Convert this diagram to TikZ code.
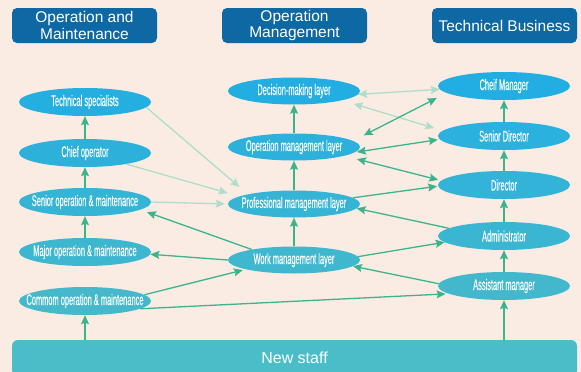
\documentclass[tikz,border=0pt]{standalone}
\usepackage{fontspec}
\setmainfont{Liberation Sans}
\newfontfamily\narrowfont{Liberation Sans}[FakeStretch=0.48,FakeBold=0.15]
\usetikzlibrary{arrows.meta,shapes.geometric}
\definecolor{bg}{HTML}{FAECE3}
\definecolor{hdr}{HTML}{0E68A3}
\definecolor{etop}{HTML}{22AEE2}
\definecolor{ebot}{HTML}{45B9CB}
\definecolor{staffc}{HTML}{4ABEC8}
\definecolor{darkg}{HTML}{3BB48E}
\definecolor{lightg}{HTML}{AFDDCB}
\newcommand{\lbl}[1]{\makebox[0pt][c]{#1}}
\begin{document}
\begin{tikzpicture}[x=1pt,y=-1pt,
  >={Stealth[length=9pt,width=8pt,inset=1.5pt]},
  hdrbox/.style={rectangle, rounded corners=5pt, fill=hdr, text=white,
    minimum width=145pt, minimum height=35pt, inner sep=0pt, align=center,
    font=\fontsize{15.5}{16.5}\selectfont},
  ell/.style={ellipse, minimum width=132pt, minimum height=28pt, inner sep=0pt,
    text=white, font=\narrowfont\fontsize{15.5}{15.5}\selectfont},
  staffbox/.style={rectangle, rounded corners=6pt, fill=staffc, text=white,
    minimum width=565pt, minimum height=36pt, inner sep=0pt,
    font=\fontsize{16}{18}\selectfont},
  arr/.style={draw=darkg, line width=1.3pt, ->},
  darr/.style={draw=darkg, line width=1.3pt, <->},
  larr/.style={draw=lightg, line width=1.3pt, ->},
  ldarr/.style={draw=lightg, line width=1.3pt, <->}
]
\fill[bg] (0,0) rectangle (581,372);
\useasboundingbox (0,0) rectangle (581,372);

% headers
\node[hdrbox] (h1) at (84.5,25.5) {Operation and\\Maintenance};
\node[hdrbox] (h2) at (294.5,25.5) {Operation\\Management};
\node[hdrbox] (h3) at (504.5,25.5) {Technical Business};

% left column
\node[ell, fill=ebot!7!etop]   (tech)   at (85,102) {\lbl{Technical specialists}};
\node[ell, fill=ebot!31!etop]  (chief)  at (85,153) {\lbl{Chief operator}};
\node[ell, fill=ebot!55!etop]  (senior) at (85,202) {\lbl{Senior operation \& maintenance}};
\node[ell, fill=ebot!77!etop]  (major)  at (85,252) {\lbl{Major operation \& maintenance}};
\node[ell, fill=ebot!100!etop] (common) at (85,301) {\lbl{Commom operation \& maintenance}};

% middle column
\node[ell, minimum height=27pt, fill=ebot!2!etop]  (dec)  at (294,91)  {\lbl{Decision-making layer}};
\node[ell, minimum height=27pt, fill=ebot!28!etop] (opm)  at (294,147) {\lbl{Operation management layer}};
\node[ell, minimum height=27pt, fill=ebot!55!etop] (prof) at (294,204) {\lbl{Professional management layer}};
\node[ell, minimum height=27pt, fill=ebot!81!etop] (work) at (294,260) {\lbl{Work management layer}};

% right column
\node[ell, fill=ebot!0!etop]  (cm)   at (504,86)  {\lbl{Cheif Manager}};
\node[ell, fill=ebot!23!etop] (sd)   at (504,136) {\lbl{Senior Director}};
\node[ell, fill=ebot!46!etop] (dir)  at (504,185) {\lbl{Director}};
\node[ell, fill=ebot!70!etop] (adm)  at (504,236) {\lbl{Administrator}};
\node[ell, fill=ebot!93!etop] (asst) at (504,286) {\lbl{Assistant manager}};

% bottom
\node[staffbox] (staff) at (294.5,358) {New staff};

% vertical arrows
\draw[arr] (chief.north) -- (tech.south);
\draw[arr] (senior.north) -- (chief.south);
\draw[arr] (major.north) -- (senior.south);
\draw[arr] (staff.north -| common.south) -- (common.south);
\draw[arr] (work.north) -- (prof.south);
\draw[arr] (prof.north) -- (opm.south);
\draw[arr] (opm.north) -- (dec.south);
\draw[arr] (staff.north -| asst.south) -- (asst.south);
\draw[arr] (asst.north) -- (adm.south);
\draw[arr] (adm.north) -- (dir.south);
\draw[arr] (dir.north) -- (sd.south);
\draw[arr] (sd.north) -- (cm.south);

% light arrows
\draw[larr, shorten >=11pt] (tech.-5) -- (prof.168);
\draw[larr, shorten >=12pt] (chief.-15.6) -- (prof.172);
\draw[larr, shorten >=3pt] (senior.east) -- (prof.west);
\draw[ldarr] (dec.-3) -- (cm.183);
\draw[ldarr, shorten <=12pt, shorten >=9pt] (dec.-11) -- (sd.175);

% dark diagonal arrows
\draw[darr, shorten <=12pt, shorten >=11pt] (opm.6) -- (cm.187);
\draw[darr, shorten <=2pt, shorten >=2pt] (opm.-5) -- (sd.183);
\draw[darr, shorten <=13pt, shorten >=3pt] (opm.-10) -- (dir.176);
\draw[arr, shorten >=1pt] (prof.6) -- (dir.181);
\draw[arr] (adm.172) -- (prof.-4);
\draw[arr] (work.3) -- (adm.186);
\draw[arr] (asst.178) -- (work.-6);
\draw[arr, shorten >=3pt] (common.-8) -- (asst.188);
\draw[arr, shorten >=3pt] (common.6) -- (work.191);
\draw[arr] (work.west) -- (major.-2);
\draw[arr, shorten >=7pt] (work.166) -- (senior.-8);
\end{tikzpicture}
\end{document}
